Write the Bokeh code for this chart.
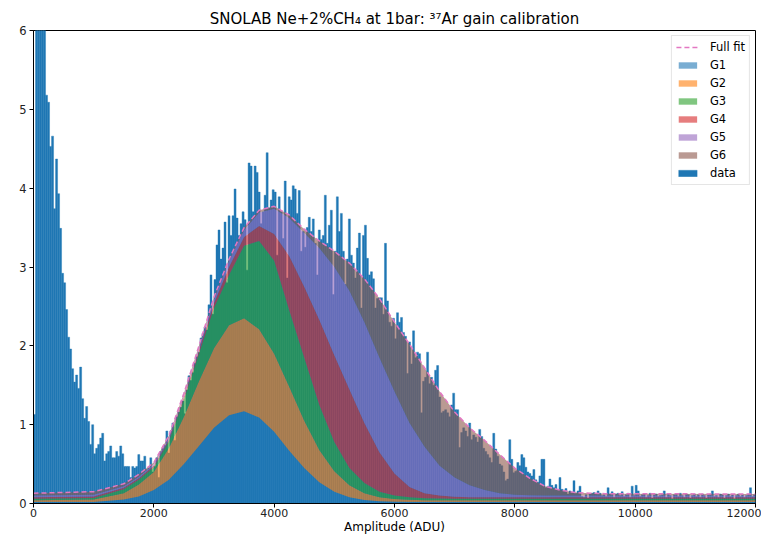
import numpy as np
from bokeh.plotting import figure
from bokeh.models import Legend, LegendItem, Range1d, FixedTicker
from bokeh.embed import file_html
from bokeh.resources import INLINE

# ---------------- data ----------------
# histogram: 360 bins of equal width between 0 and 12000 ADU
hist_range = (0, 12000)
hist_values = [
    1.13, 9.5, 10.1, 9.2, 7.8, 6.4, 5.18, 5.09, 4.53, 4.66,
    3.74, 4.37, 3.93, 3.49, 2.92, 2.80, 2.46, 2.11, 1.96, 1.71,
    1.54, 1.63, 1.46, 1.73, 1.33, 1.08, 1.23, 1.04, 0.75, 1.00,
    0.63, 0.70, 0.75, 0.83, 0.89, 0.54, 0.63, 0.66, 0.73, 0.58,
    0.58, 0.66, 0.60, 0.73, 0.63, 0.47, 0.47, 0.47, 0.33, 0.47,
    0.45, 0.47, 0.62, 0.54, 0.54, 0.60, 0.43, 0.45, 0.58, 0.40,
    0.47, 0.58, 0.33, 0.66, 0.70, 0.74, 0.92, 0.64, 0.92, 1.02,
    0.80, 1.10, 1.16, 1.22, 1.30, 1.14, 1.44, 1.62, 1.56, 1.66,
    1.78, 1.86, 1.92, 2.10, 2.16, 2.24, 2.20, 2.52, 2.90, 2.40,
    2.84, 3.28, 3.47, 3.10, 3.24, 3.57, 2.80, 3.65, 3.40, 3.65,
    3.99, 3.62, 3.40, 3.55, 3.70, 3.60, 2.96, 4.32, 4.28, 3.70,
    4.28, 4.20, 3.95, 3.55, 3.70, 3.91, 4.45, 3.75, 3.85, 3.98,
    3.95, 3.15, 3.89, 3.70, 3.36, 4.09, 2.86, 3.89, 3.85, 4.03,
    3.99, 3.68, 3.97, 3.20, 3.45, 3.25, 3.50, 3.63, 3.45, 3.61,
    3.30, 2.90, 3.47, 3.35, 3.40, 3.91, 3.30, 3.53, 3.72, 2.65,
    3.20, 3.89, 3.45, 3.68, 3.20, 2.78, 3.10, 3.61, 3.15, 3.05,
    2.86, 3.24, 3.43, 2.48, 3.40, 3.53, 3.11, 2.90, 2.94, 2.85,
    2.48, 2.60, 2.61, 2.61, 2.40, 3.30, 2.57, 2.30, 2.25, 2.35,
    2.09, 2.42, 2.30, 2.36, 2.17, 2.12, 1.65, 2.05, 1.77, 2.19,
    1.85, 1.92, 1.90, 1.15, 1.55, 1.60, 1.92, 1.52, 1.60, 1.50,
    1.69, 1.75, 1.35, 1.15, 1.17, 1.19, 1.15, 1.10, 1.25, 1.40,
    1.19, 1.19, 0.71, 0.90, 0.96, 0.92, 0.85, 1.02, 0.81, 0.87,
    0.84, 0.78, 0.94, 0.85, 0.70, 0.66, 0.62, 0.58, 0.52, 0.89,
    0.69, 0.60, 0.50, 0.48, 0.40, 0.29, 0.31, 0.81, 0.56, 0.39,
    0.41, 0.52, 0.48, 0.62, 0.58, 0.46, 0.40, 0.38, 0.35, 0.43,
    0.30, 0.27, 0.35, 0.56, 0.56, 0.20, 0.22, 0.31, 0.23, 0.20,
    0.24, 0.17, 0.33, 0.18, 0.17, 0.19, 0.12, 0.16, 0.14, 0.29,
    0.13, 0.16, 0.22, 0.09, 0.08, 0.11, 0.07, 0.12, 0.13, 0.14,
    0.12, 0.16, 0.13, 0.10, 0.11, 0.09, 0.20, 0.12, 0.15, 0.08,
    0.12, 0.13, 0.10, 0.15, 0.09, 0.11, 0.13, 0.08, 0.22, 0.10,
    0.23, 0.16, 0.09, 0.11, 0.12, 0.08, 0.10, 0.13, 0.07, 0.11,
    0.12, 0.09, 0.10, 0.11, 0.16, 0.08, 0.12, 0.10, 0.06, 0.11,
    0.12, 0.09, 0.13, 0.10, 0.08, 0.12, 0.11, 0.07, 0.10, 0.12,
    0.09, 0.11, 0.08, 0.12, 0.10, 0.07, 0.11, 0.12, 0.16, 0.09,
    0.10, 0.08, 0.12, 0.11, 0.07, 0.10, 0.12, 0.09, 0.11, 0.06,
    0.10, 0.12, 0.09, 0.11, 0.08, 0.10, 0.12, 0.20, 0.09, 0.11,
]

# fit curves, read at sample amplitudes: stacked tops of G1..G5 and the full fit
fit_x = [0, 1000, 1500, 1750, 2000, 2250, 2500, 2750, 3000, 3250, 3500, 3750,
         4000, 4250, 4500, 4750, 5000, 5250, 5500, 5750, 6000, 6250, 6500, 6750,
         7000, 7250, 7500, 7750, 8000, 8250, 8500, 8750, 9000, 9250, 9500, 12000]
g1_top = [0.02, 0.02, 0.05, 0.09, 0.17, 0.30, 0.50, 0.73, 0.96, 1.12, 1.17, 1.09,
          0.91, 0.67, 0.45, 0.27, 0.15, 0.08, 0.045, 0.03, 0.023, 0.02, 0.02, 0.02,
          0.02, 0.02, 0.02, 0.02, 0.02, 0.02, 0.02, 0.02, 0.02, 0.02, 0.02, 0.02]
g2_top = [0.04, 0.05, 0.13, 0.24, 0.40, 0.70, 1.10, 1.55, 1.97, 2.26, 2.35, 2.21,
          1.90, 1.48, 1.05, 0.68, 0.41, 0.23, 0.13, 0.08, 0.056, 0.046, 0.042, 0.04,
          0.04, 0.04, 0.04, 0.04, 0.04, 0.04, 0.04, 0.04, 0.04, 0.04, 0.04, 0.04]
g3_top = [0.06, 0.07, 0.18, 0.30, 0.46, 0.79, 1.32, 1.90, 2.48, 2.90, 3.27, 3.33,
          3.08, 2.45, 1.85, 1.25, 0.78, 0.45, 0.26, 0.15, 0.10, 0.08, 0.067, 0.062,
          0.06, 0.06, 0.06, 0.06, 0.06, 0.06, 0.06, 0.06, 0.06, 0.06, 0.06, 0.06]
g4_top = [0.08, 0.09, 0.20, 0.32, 0.48, 0.81, 1.35, 1.94, 2.54, 3.00, 3.38, 3.52,
          3.42, 3.14, 2.75, 2.33, 1.88, 1.45, 1.02, 0.65, 0.38, 0.21, 0.13, 0.10,
          0.085, 0.08, 0.08, 0.08, 0.08, 0.08, 0.08, 0.08, 0.08, 0.08, 0.08, 0.08]
g5_top = [0.10, 0.11, 0.22, 0.34, 0.50, 0.83, 1.37, 1.97, 2.59, 3.08, 3.47, 3.69,
          3.74, 3.62, 3.43, 3.24, 3.00, 2.70, 2.30, 1.85, 1.42, 1.02, 0.72, 0.48,
          0.33, 0.23, 0.17, 0.13, 0.11, 0.105, 0.10, 0.10, 0.10, 0.10, 0.10, 0.10]
full_fit = [0.13, 0.15, 0.25, 0.37, 0.52, 0.86, 1.40, 2.00, 2.62, 3.10, 3.50, 3.72,
            3.77, 3.66, 3.48, 3.33, 3.20, 3.05, 2.85, 2.60, 2.30, 2.02, 1.72, 1.42,
            1.16, 0.96, 0.80, 0.62, 0.45, 0.32, 0.22, 0.17, 0.14, 0.13, 0.125, 0.12]

component_names = ["G1", "G2", "G3", "G4", "G5", "G6"]
component_colors = ["#1f77b4", "#ff7f0e", "#2ca02c", "#d62728", "#9467bd", "#8c564b"]
x_ticks = [0, 2000, 4000, 6000, 8000, 10000, 12000]
y_ticks = [0, 1, 2, 3, 4, 5, 6]

# ---------------- figure ----------------
FONT = "DejaVu Sans"
p = figure(width=761, height=536, output_backend="svg", toolbar_location=None,
           x_range=Range1d(0, 12000), y_range=Range1d(0, 6),
           min_border_left=33, min_border_right=6, min_border_top=30,
           min_border_bottom=28,
           title="SNOLAB Ne+2%CH\u2084 at 1bar: \u00b3\u2077Ar gain calibration")

p.title.align = "center"
p.title.text_font = FONT
p.title.text_font_size = "15px"
p.title.text_font_style = "normal"
p.title.text_color = "#000000"
p.title.standoff = 6

p.grid.visible = False
p.outline_line_color = "#000000"
p.outline_line_width = 1
p.background_fill_color = "#ffffff"
p.border_fill_color = "#ffffff"

for ax in (p.xaxis[0], p.yaxis[0]):
    ax.axis_line_color = "#000000"
    ax.major_tick_line_color = "#000000"
    ax.major_tick_out = 4
    ax.major_tick_in = 0
    ax.minor_tick_line_color = None
    ax.major_label_text_font = FONT
    ax.major_label_text_font_size = "11.5px"
    ax.major_label_text_color = "#222222"
    ax.major_label_standoff = 3

p.xaxis.major_label_standoff = 1
p.xaxis.major_label_text_font_size = "11px"
p.xaxis.ticker = FixedTicker(ticks=x_ticks)
p.yaxis.ticker = FixedTicker(ticks=y_ticks)
p.xaxis.axis_label = "Amplitude (ADU)"
p.xaxis.axis_label_text_font = FONT
p.xaxis.axis_label_text_font_size = "12px"
p.xaxis.axis_label_text_font_style = "normal"
p.xaxis.axis_label_text_color = "#000000"
p.xaxis.axis_label_standoff = 0

# histogram
edges = np.linspace(hist_range[0], hist_range[1], len(hist_values) + 1)
data_r = p.quad(left=edges[:-1], right=edges[1:], bottom=0, top=hist_values,
                fill_color="#1f77b4", line_color="#1f77b4", line_width=0.4)

# stacked fit components
tops = [g1_top, g2_top, g3_top, g4_top, g5_top, full_fit]
bottoms = [[0.0] * len(fit_x)] + tops[:-1]
comp_r = []
for name, col, lo, hi in zip(component_names, component_colors, bottoms, tops):
    r = p.varea(x=fit_x, y1=lo, y2=hi, fill_color=col, fill_alpha=0.6)
    comp_r.append(r)

fit_r = p.line(fit_x, full_fit, line_color="#e377c2", line_width=1.5, line_dash="5 3")

items = [LegendItem(label="Full fit", renderers=[fit_r])]
for name, r in zip(component_names, comp_r):
    items.append(LegendItem(label=name, renderers=[r]))
items.append(LegendItem(label="data", renderers=[data_r]))

legend = Legend(items=items, location="top_right", margin=5, padding=4,
                spacing=4, label_height=13, glyph_height=8, glyph_width=23,
                label_standoff=11, label_text_font=FONT, label_text_font_size="11.5px",
                label_text_color="#000000", border_line_color="#cccccc",
                border_line_width=1, background_fill_alpha=0.8)
p.add_layout(legend, "center")

html = file_html(p, INLINE)
open("out.html", "w").write(html)
